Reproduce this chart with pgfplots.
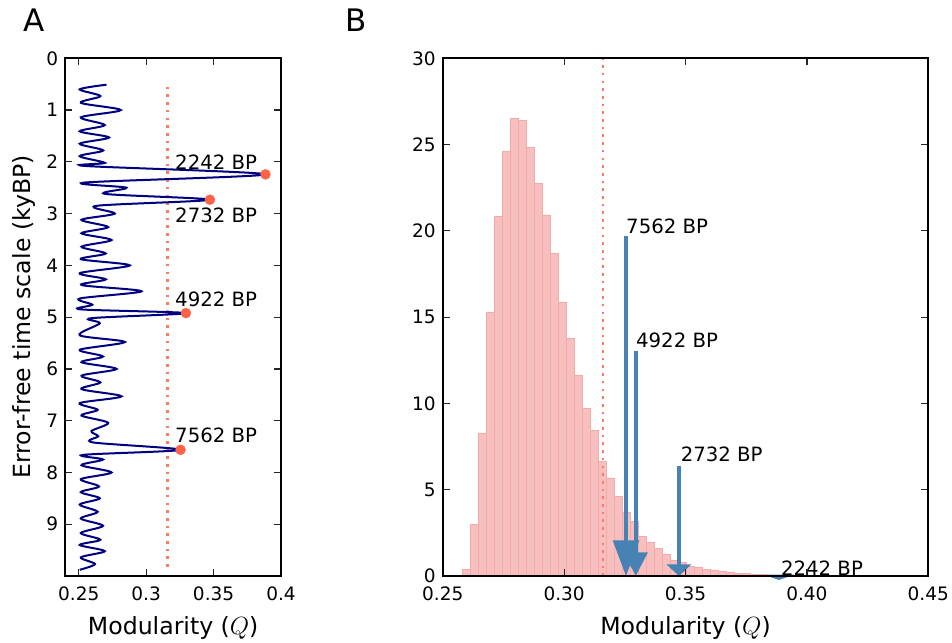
\documentclass[border=0pt]{standalone}
\usepackage{pgfplots}
\pgfplotsset{compat=1.18}
\usepackage{pgfplotstable}
\usepackage{fontspec}
\setmainfont{DejaVu Sans}

\definecolor{navyline}{RGB}{0,0,128}
\definecolor{tomato}{RGB}{255,99,71}
\definecolor{steel}{RGB}{70,130,180}
\definecolor{lcoral}{RGB}{240,128,128}

% Modularity along the error-free time scale (kyBP, Q)
\pgfplotstableread{
t q
0.51 0.2706
0.60 0.2507
0.73 0.2660
0.86 0.2515
1.00 0.2812
1.14 0.2515
1.29 0.2693
1.41 0.2507
1.53 0.2725
1.65 0.2507
1.78 0.2681
1.89 0.2507
2.02 0.2693
2.08 0.2550
2.242 0.3885
2.40 0.2545
2.50 0.2854
2.62 0.2698
2.732 0.3473
2.85 0.2631
3.00 0.2767
3.12 0.2520
3.26 0.2718
3.38 0.2520
3.51 0.2743
3.64 0.2520
3.77 0.2700
3.88 0.2515
4.00 0.2879
4.15 0.2507
4.27 0.2700
4.38 0.2520
4.50 0.2966
4.64 0.2507
4.76 0.2600
4.85 0.2515
4.922 0.3295
5.02 0.2594
5.12 0.2656
5.35 0.2507
5.48 0.2842
5.63 0.2507
5.76 0.2680
5.87 0.2520
6.00 0.2780
6.13 0.2520
6.26 0.2660
6.39 0.2520
6.53 0.2817
6.66 0.2507
6.79 0.2640
6.90 0.2520
7.04 0.2718
7.20 0.2594
7.30 0.2644
7.42 0.2606
7.562 0.3255
7.66 0.2532
7.75 0.2680
7.86 0.2520
8.00 0.2743
8.13 0.2515
8.27 0.2650
8.38 0.2515
8.50 0.2656
8.62 0.2507
8.76 0.2640
8.89 0.2515
9.03 0.2680
9.17 0.2515
9.30 0.2660
9.40 0.2507
9.52 0.2693
9.64 0.2515
9.77 0.2620
9.88 0.2507
}\modseries

% Null distribution of Q (bin left edge, density)
\pgfplotstableread{
q h
0.25824 0.39
0.26154 2.98
0.26483 8.27
0.26813 15.30
0.27142 20.86
0.27472 24.58
0.27801 26.52
0.28131 26.42
0.28460 24.82
0.28790 22.75
0.29119 20.92
0.29449 18.70
0.29778 15.87
0.30108 13.75
0.30437 11.63
0.30767 9.72
0.31096 8.42
0.31426 6.62
0.31755 5.68
0.32085 4.59
0.32414 3.70
0.32744 3.17
0.33073 2.29
0.33403 1.97
0.33732 1.62
0.34062 1.25
0.34391 0.93
0.34721 0.80
0.35050 0.55
0.35380 0.48
0.35709 0.40
0.36039 0.33
0.36368 0.27
0.36698 0.22
0.37027 0.17
0.37357 0.13
0.37686 0.10
0.38016 0.07
0.38345 0.04
0.38675 0
}\nullhist

\begin{document}
\begin{tikzpicture}[x=1pt,y=1pt]
\path[use as bounding box] (0,0) rectangle (952,642);

\pgfplotsset{
  every axis/.append style={
    scale only axis,
    axis on top,
    axis line style={line width=1.8pt},
    every tick/.style={black!85, line width=1.2pt},
    major tick length=7pt,
    tick label style={font=\fontsize{18.5}{22}\selectfont},
    xticklabel style={yshift=-7pt},
    yticklabel style={xshift=-3.5pt},
    /pgf/number format/assume math mode=true,
  },
  qline/.style={tomato!85!white, line width=2.8pt, dash pattern=on 2.6pt off 5.1pt},
}

% Panel A
\begin{axis}[
  at={(65.3pt,66pt)}, anchor=south west,
  width=215.7pt, height=517.7pt,
  xmin=0.24, xmax=0.40, ymin=0, ymax=10, y dir=reverse,
  xtick={0.25,0.3,0.35,0.4}, xticklabels={0.25,0.3,0.35,0.4},
  ytick={0,1,2,3,4,5,6,7,8,9},
  clip=false,
]
\addplot[qline] coordinates {(0.316,0.55) (0.316,9.88)};
\addplot[navyline, line width=2pt, smooth, tension=0.5] table[x=q, y=t] {\modseries};
\addplot[only marks, mark=*, mark size=5pt, tomato, mark options={draw=none, fill=tomato}]
  coordinates {(0.3885,2.242) (0.3473,2.732) (0.3295,4.922) (0.3255,7.562)};
\begin{scope}[every node/.style={anchor=base west, inner sep=0pt, font=\fontsize{19.7}{22}\selectfont}]
\node at (axis cs:0.3214,2.14) {2242 BP};
\node at (axis cs:0.3214,3.17) {2732 BP};
\node at (axis cs:0.3214,4.79) {4922 BP};
\node at (axis cs:0.3214,7.43) {7562 BP};
\end{scope}
\end{axis}

% Panel B
\begin{axis}[
  at={(442.7pt,66pt)}, anchor=south west,
  width=485.6pt, height=517.7pt,
  xmin=0.25, xmax=0.45, ymin=0, ymax=30,
  xtick={0.25,0.30,0.35,0.40,0.45}, xticklabels={0.25,0.30,0.35,0.40,0.45},
  ytick={0,5,10,15,20,25,30},
  clip=false,
]
\addplot[ybar interval, fill=lcoral!50!white, draw=lcoral!68!white, line width=0.9pt]
  table[x=q, y=h] {\nullhist};
\addplot[qline] coordinates {(0.316,0) (0.316,30)};
% arrows: shaft plus head, head length about a tenth of the arrow
\addplot[steel, line width=4pt] coordinates {(0.3255,19.7) (0.3255,1.5)};
\addplot[draw=none, fill=steel] coordinates {(0.3200,2.07) (0.3310,2.07) (0.3255,0) (0.3200,2.07)};
\addplot[steel, line width=4pt] coordinates {(0.3295,13.05) (0.3295,1.0)};
\addplot[draw=none, fill=steel] coordinates {(0.3245,1.37) (0.3345,1.37) (0.3295,0) (0.3245,1.37)};
\addplot[steel, line width=4pt] coordinates {(0.3473,6.4) (0.3473,0.5)};
\addplot[draw=none, fill=steel] coordinates {(0.3422,0.67) (0.3524,0.67) (0.3473,0) (0.3422,0.67)};
\addplot[steel, fill=steel, line width=1pt] coordinates {(0.3834,0.05) (0.3936,0.05) (0.3885,-0.2) (0.3834,0.05)};
\begin{scope}[every node/.style={anchor=base west, inner sep=0pt, font=\fontsize{19.7}{22}\selectfont}]
\node at (axis cs:0.3255,19.86) {7562 BP};
\node at (axis cs:0.3296,13.23) {4922 BP};
\node at (axis cs:0.3480,6.62) {2732 BP};
\node at (axis cs:0.3893,0.03) {2242 BP};
\end{scope}
\end{axis}

% panel letters and axis titles
\node[anchor=base west, inner sep=0pt, font=\fontsize{31}{34}\selectfont] at (23,610) {A};
\node[anchor=base west, inner sep=0pt, font=\fontsize{31}{34}\selectfont] at (345,610) {B};
\node[anchor=base, inner sep=0pt, font=\fontsize{23.6}{26}\selectfont] at (173.2,8) {Modularity ($Q$)};
\node[anchor=base, inner sep=0pt, font=\fontsize{23.6}{26}\selectfont] at (685.5,8) {Modularity ($Q$)};
\node[anchor=base, inner sep=0pt, rotate=90, font=\fontsize{23.6}{26}\selectfont] at (31,325) {Error-free time scale (kyBP)};
\end{tikzpicture}
\end{document}
